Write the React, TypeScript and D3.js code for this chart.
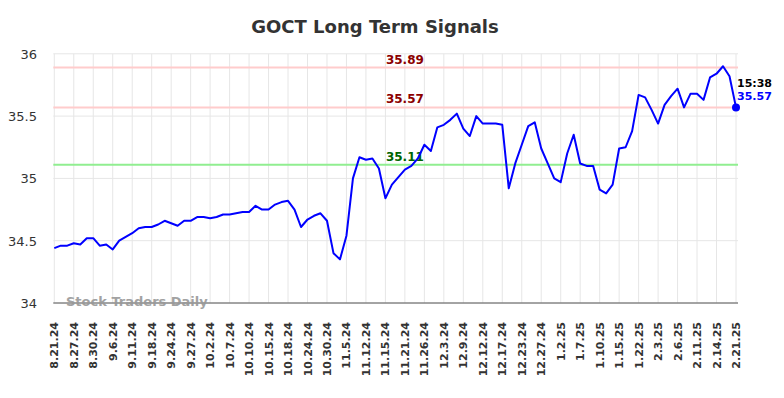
import * as d3 from "d3";

const WIDTH = 784;
const HEIGHT = 398;
const MARGIN = { top: 53.8, right: 48, bottom: 95, left: 54.3 };

const TITLE = "GOCT Long Term Signals";

// one label every 3 trading days
const DATE_LABELS = [
  "8.21.24", "8.27.24", "8.30.24", "9.6.24", "9.11.24", "9.18.24",
  "9.24.24", "9.27.24", "10.2.24", "10.7.24", "10.10.24", "10.15.24",
  "10.18.24", "10.24.24", "10.30.24", "11.5.24", "11.12.24", "11.15.24",
  "11.21.24", "11.26.24", "12.3.24", "12.9.24", "12.12.24", "12.17.24",
  "12.23.24", "12.27.24", "1.2.25", "1.7.25", "1.10.25", "1.15.25",
  "1.22.25", "2.3.25", "2.6.25", "2.11.25", "2.14.25", "2.21.25",
];
const LABEL_STEP = 3;

const PRICES = [
  34.44, 34.46, 34.46, 34.48, 34.47, 34.52, 34.52, 34.46, 34.47, 34.43,
  34.5, 34.53, 34.56, 34.6, 34.61, 34.61, 34.63, 34.66, 34.64, 34.62,
  34.66, 34.66, 34.69, 34.69, 34.68, 34.69, 34.71, 34.71, 34.72, 34.73,
  34.73, 34.78, 34.75, 34.75, 34.79, 34.81, 34.82, 34.75, 34.61, 34.67,
  34.7, 34.72, 34.66, 34.4, 34.35, 34.54, 35.0, 35.17, 35.15, 35.16,
  35.08, 34.84, 34.95, 35.01, 35.07, 35.1, 35.16, 35.27, 35.22, 35.41,
  35.43, 35.47, 35.52, 35.4, 35.34, 35.5, 35.44, 35.44, 35.44, 35.43,
  34.92, 35.12, 35.27, 35.42, 35.45, 35.24, 35.12, 35.0, 34.97, 35.2,
  35.35, 35.12, 35.1, 35.1, 34.91, 34.88, 34.95, 35.24, 35.25, 35.38,
  35.67, 35.65, 35.55, 35.44, 35.59, 35.66, 35.72, 35.57, 35.68, 35.68,
  35.63, 35.81, 35.84, 35.9, 35.82, 35.57,
];

const Y_TICKS = [34, 34.5, 35, 35.5, 36];
const RESISTANCE = [35.89, 35.57];
const SUPPORT = [35.11];
const LAST_TIME = "15:38";
const LAST_PRICE = "35.57";
const WATERMARK = "Stock Traders Daily";

const FONT = "'DejaVu Sans', sans-serif";

export default function App() {
  const x = d3
    .scaleLinear()
    .domain([0, PRICES.length - 1])
    .range([MARGIN.left, WIDTH - MARGIN.right]);
  const y = d3
    .scaleLinear()
    .domain([34, 36])
    .range([HEIGHT - MARGIN.bottom, MARGIN.top]);

  const line = d3
    .line<number>()
    .x((_, i) => x(i))
    .y((d) => y(d));

  const x0 = x(0) - 1;
  const x1 = x(PRICES.length - 1) + 2;
  const labelX = x(54);
  const lastI = PRICES.length - 1;
  const lastY = y(PRICES[lastI]);

  return (
    <div style={{ position: "absolute", left: 0, top: 0 }}>
      <svg width={WIDTH} height={HEIGHT} style={{ fontFamily: FONT, display: "block" }}>
        <rect width={WIDTH} height={HEIGHT} fill="#fff" />
        <text
          x={375}
          y={33}
          textAnchor="middle"
          fontSize={18}
          fontWeight="bold"
          fill="#333"
        >
          {TITLE}
        </text>

        {/* vertical grid */}
        {DATE_LABELS.map((d, i) => (
          <line
            key={d}
            x1={x(i * LABEL_STEP)}
            x2={x(i * LABEL_STEP)}
            y1={y(36)}
            y2={y(34)}
            stroke="#e6e6e6"
            strokeWidth={1}
          />
        ))}
        {/* horizontal grid + y labels */}
        {Y_TICKS.map((t) => (
          <g key={t}>
            <line x1={x0} x2={x1} y1={y(t)} y2={y(t)} stroke="#e6e6e6" strokeWidth={1} />
            <text
              x={37}
              y={y(t) + 5}
              textAnchor="end"
              fontSize={13}
              fill="#333"
            >
              {t}
            </text>
          </g>
        ))}

        {/* signal levels */}
        {RESISTANCE.map((v) => (
          <g key={v}>
            <line x1={x0} x2={x1} y1={y(v)} y2={y(v)} stroke="#ffcccc" strokeWidth={2} />
            <text
              x={labelX}
              y={y(v) - 4}
              textAnchor="middle"
              fontSize={12}
              fontWeight="bold"
              fill="#8b0000"
            >
              {v.toFixed(2)}
            </text>
          </g>
        ))}
        {SUPPORT.map((v) => (
          <g key={v}>
            <line x1={x0} x2={x1} y1={y(v)} y2={y(v)} stroke="#90ee90" strokeWidth={2} />
            <text
              x={labelX}
              y={y(v) - 4}
              textAnchor="middle"
              fontSize={12}
              fontWeight="bold"
              fill="#006400"
            >
              {v.toFixed(2)}
            </text>
          </g>
        ))}

        {/* bottom axis */}
        <line x1={x0} x2={x1} y1={y(34)} y2={y(34)} stroke="#555" strokeWidth={1} />

        <text x={66} y={306} fontSize={13} fontWeight="bold" fill="#999" opacity={0.9}>
          {WATERMARK}
        </text>

        {/* x labels */}
        {DATE_LABELS.map((d, i) => (
          <text
            key={d}
            transform={`translate(${x(i * LABEL_STEP) + 4},${y(34) + 19}) rotate(-90)`}
            textAnchor="end"
            fontSize={11}
            fontWeight="bold"
            fill="#333"
          >
            {d}
          </text>
        ))}

        <path d={line(PRICES) ?? ""} fill="none" stroke="#0000ff" strokeWidth={2} strokeLinejoin="round" />
        <circle cx={x(lastI)} cy={lastY} r={4} fill="#0000ff" />

        <text x={x(lastI) + 1} y={lastY - 20} fontSize={11} fontWeight="bold" fill="#000">
          {LAST_TIME}
        </text>
        <text x={x(lastI) + 1} y={lastY - 7} fontSize={11} fontWeight="bold" fill="#0000ff">
          {LAST_PRICE}
        </text>
      </svg>
    </div>
  );
}
